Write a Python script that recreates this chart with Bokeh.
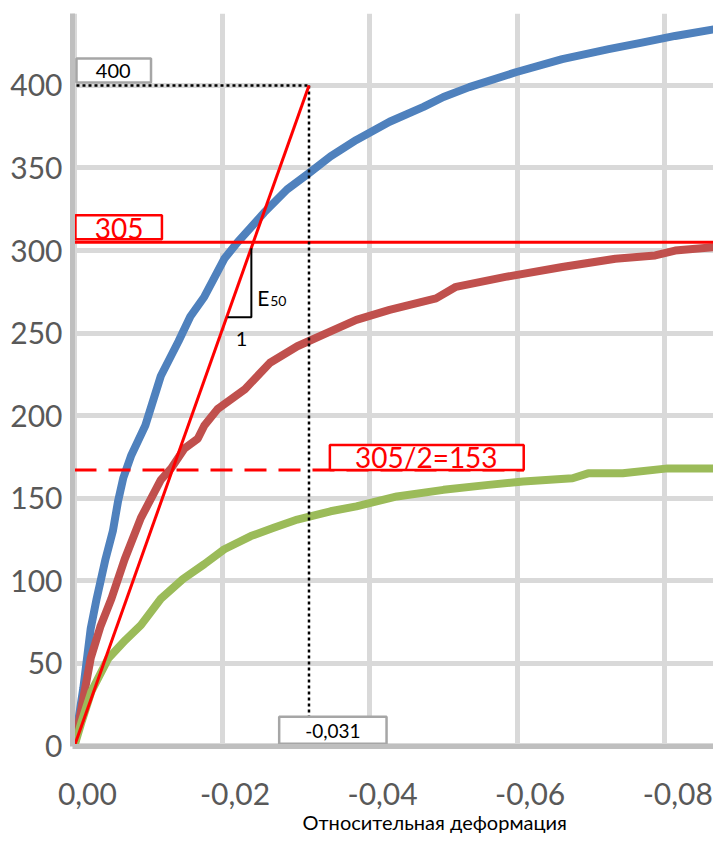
from bokeh.plotting import figure
from bokeh.models import Range1d, FixedTicker, CustomJSTickFormatter, Title, ColumnDataSource
from bokeh.core.properties import value
from bokeh.embed import file_html
from bokeh.resources import INLINE

# ---- data (strain, stress) ----
blue_x = [0, -0.0012, -0.0022, -0.0030, -0.0042, -0.0052, -0.0059, -0.0066, -0.0077, -0.0096,
          -0.0117, -0.0141, -0.0157, -0.0176, -0.0203, -0.0221, -0.0257, -0.0288, -0.0318, -0.0347,
          -0.0382, -0.0427, -0.0473, -0.0500, -0.0535, -0.0598, -0.0661, -0.0724, -0.0769, -0.0814, -0.0867]
blue_y = [0, 35, 71, 89, 113, 130, 148, 162, 176, 194,
          224, 245, 260, 272, 295, 305, 323, 337, 347, 357,
          367, 378, 387, 393, 399, 408, 416, 422, 426, 430, 434]

red_x = [0, -0.0022, -0.0035, -0.0050, -0.0068, -0.0090, -0.0117, -0.0131, -0.0149, -0.0167,
         -0.0176, -0.0194, -0.0231, -0.0265, -0.0302, -0.0347, -0.0382, -0.0427, -0.0490, -0.0517,
         -0.0584, -0.0661, -0.0733, -0.0787, -0.0814, -0.0867]
red_y = [0, 53, 72, 89, 113, 138, 161, 168, 180, 186,
         194, 204, 216, 232, 242, 251, 258, 264, 271, 278,
         284, 290, 295, 297, 300, 302]

green_x = [0, -0.0010, -0.0023, -0.0046, -0.0069, -0.0090, -0.0117, -0.0147, -0.0176, -0.0203,
           -0.0239, -0.0270, -0.0302, -0.0347, -0.0382, -0.0437, -0.0500, -0.0561, -0.0608, -0.0675,
           -0.0696, -0.0743, -0.0804, -0.0867]
green_y = [0, 15, 33, 53, 64, 73, 89, 101, 110, 119,
           127, 132, 137, 142, 145, 151, 155, 158, 160, 162,
           165, 165, 168, 168]

# annotation values
q_max = 305
q_half_line = 167
secant_x = [0, -0.03178]
secant_y = [0, 400]
ref_x = -0.03178
ref_y = 400

x_tick_vals = [0, -0.02, -0.04, -0.06, -0.08]
x_tick_labels = ["0,00", "-0,02", "-0,04", "-0,06", "-0,08"]
y_tick_vals = [0, 50, 100, 150, 200, 250, 300, 350, 400]

p = figure(width=713, height=834, output_backend="svg", toolbar_location=None,
           title_location=None,
           x_range=Range1d(0.00027, -0.0866), y_range=Range1d(-0.5, 443.6),
           min_border_left=72, min_border_right=0, min_border_top=13, min_border_bottom=88)
p.outline_line_color = None
p.background_fill_color = "white"

# grids
p.xgrid.ticker = FixedTicker(ticks=x_tick_vals)
p.ygrid.ticker = FixedTicker(ticks=y_tick_vals)
for g in (p.xgrid, p.ygrid):
    g.grid_line_color = "#d9d9d9"
    g.grid_line_width = 5

# axes
shift = 13 / 7425.0
p.xaxis.ticker = FixedTicker(ticks=[v - shift for v in x_tick_vals])
p.xaxis.formatter = CustomJSTickFormatter(args=dict(labels=x_tick_labels), code="return labels[index];")
p.yaxis.ticker = FixedTicker(ticks=y_tick_vals)
for ax in (p.xaxis, p.yaxis):
    ax.axis_line_color = "#bfbfbf"
    ax.axis_line_width = 5
    ax.major_tick_line_color = None
    ax.minor_tick_line_color = None
    ax.major_label_text_font = "Lato"
    ax.major_label_text_font_size = "30px"
    ax.major_label_text_color = "#595959"
p.yaxis.major_label_standoff = 4
p.xaxis.major_label_standoff = 30

p.add_layout(Title(text="Относительная деформация", align="left", offset=230,
                   text_font="Lato", text_font_size="20px", text_font_style="normal",
                   text_color="#000000", standoff=0), "below")

# curves
p.line(blue_x, blue_y, line_color="#4f81bd", line_width=8, line_join="round")
p.line(red_x, red_y, line_color="#c0504d", line_width=8, line_join="round")
p.line(green_x, green_y, line_color="#9bbb59", line_width=8, line_join="round")

# reference lines
p.line([0.00027, -0.0866], [q_max, q_max], line_color="#ff0000", line_width=3)
p.line([0, -0.0609], [q_half_line, q_half_line], line_color="#ff0000", line_width=3, line_dash="22 12")
p.line([-0.00027, ref_x], [ref_y, ref_y], line_color="black", line_width=2.5, line_dash="3 3")
p.line([ref_x, ref_x], [ref_y, 0], line_color="black", line_width=2.5, line_dash="3 3")
p.line(secant_x, secant_y, line_color="#ff0000", line_width=3)

# E50 triangle
p.line([-0.02074, -0.02397, -0.02397], [259.6, 259.6, 301.4], line_color="black", line_width=2)

# boxes
boxes = ColumnDataSource(dict(
    left=[-0.00027, -0.00013, -0.03461, -0.02774],
    right=[-0.01037, -0.01185, -0.06088, -0.04229],
    top=[416.3, 321.3, 182.1, 17.5],
    bottom=[401.8, 306.8, 167.0, 1.2],
    lc=["#a6a6a6", "#ff0000", "#ff0000", "#a6a6a6"],
))
p.quad(left="left", right="right", top="top", bottom="bottom", source=boxes,
       fill_color="white", line_color="lc", line_width=2.5)

labels = ColumnDataSource(dict(
    x=[-0.00525, -0.00606, -0.04768, -0.03502],
    y=[409.0, 313.5, 174.9, 9.0],
    t=["400", "305", "305/2=153", "-0,031"],
    c=["black", "#ff0000", "#ff0000", "black"],
    s=["20px", "28px", "28px", "19px"],
))
p.text(x="x", y="y", text="t", text_color="c", text_font_size="s", source=labels,
       text_font=value("Lato"), text_align="center", text_baseline="middle")

p.text(x=[-0.02478], y=[271.7], text=["E"], text_font=value("Lato"), text_font_size="21px",
       text_color="black", text_align="left", text_baseline="alphabetic")
p.text(x=[-0.02653], y=[269.3], text=["50"], text_font=value("Lato"), text_font_size="14px",
       text_color="black", text_align="left", text_baseline="alphabetic")
p.text(x=[-0.02263], y=[246.3], text=["1"], text_font=value("Lato"), text_font_size="20px",
       text_color="black", text_align="center", text_baseline="alphabetic")

open("out.html", "w").write(file_html(p, INLINE))
